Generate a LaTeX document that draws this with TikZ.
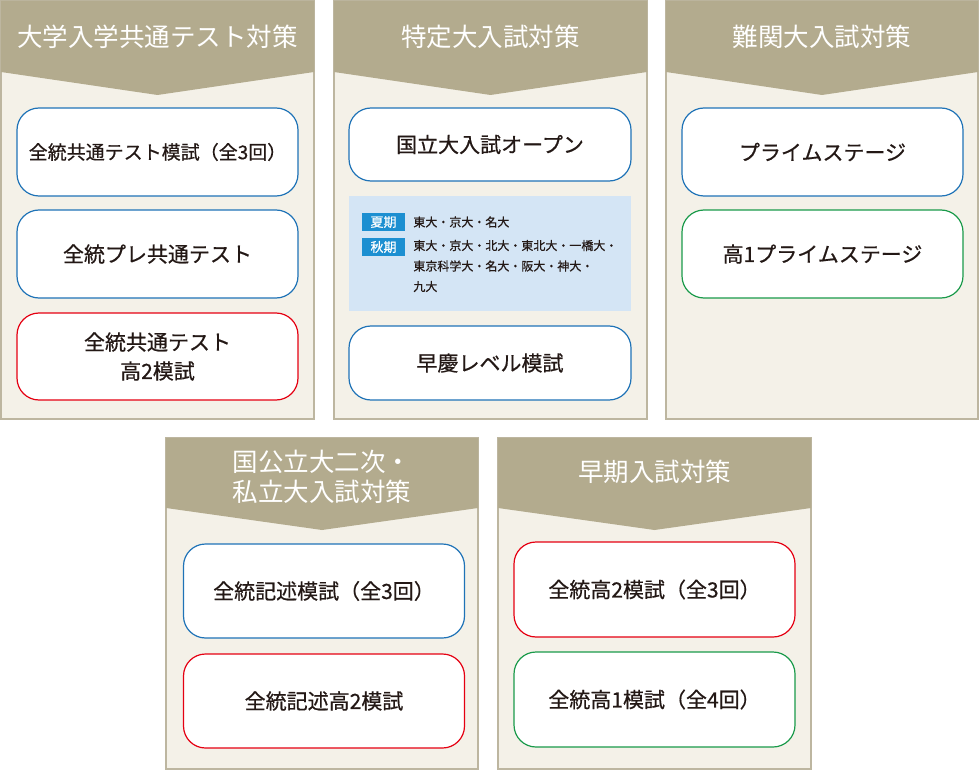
\documentclass[tikz,border=0pt]{standalone}
\usepackage{fontspec}
\setmainfont{Noto Sans CJK JP}
\newfontfamily\jpmed{Noto Sans CJK JP}[FakeBold=0.6]
\usepackage{tikz}
\usetikzlibrary{positioning,calc}

\definecolor{hdr}{HTML}{B3AB8E}
\definecolor{paper}{HTML}{F4F1E8}
\definecolor{frame}{HTML}{BDB6A0}
\definecolor{exblue}{HTML}{1F73B7}
\definecolor{exred}{HTML}{E50012}
\definecolor{exgreen}{HTML}{1A9A4A}
\definecolor{infofill}{HTML}{D4E5F5}
\definecolor{tagfill}{HTML}{1C8FD1}
\definecolor{ink}{HTML}{231815}

\begin{document}
\begin{tikzpicture}[x=1pt, y=-1pt,
    panel/.style={draw=frame, line width=1.5pt, fill=paper},
    hdrtext/.style={text=white, align=center, font=\fontsize{25.5}{31}\selectfont},
    exam/.style={rectangle, rounded corners=22pt, draw, line width=1.2pt, fill=white, text=ink,
      align=center, minimum width=281pt, font=\jpmed\fontsize{21}{29}\selectfont},
    tag/.style={rectangle, fill=tagfill, text=white, minimum width=43pt, minimum height=18pt,
      inner sep=0pt, font=\jpmed\fontsize{13}{15}\selectfont},
    info/.style={text=ink, align=left, inner sep=0pt, font=\jpmed\fontsize{12}{20.5}\selectfont}]

    \useasboundingbox (0,0) rectangle (980,770);

    % panels with chevron headers
    \foreach \xa/\xb/\ya/\yb/\ys/\yp in {1/314/1/419/72/95, 334/647/1/419/72/95, 666/978/1/419/72/95,
        166/478/438/769/508/530, 498/811/438/769/508/530} {
      \draw[panel] (\xa,\ya) rectangle (\xb,\yb);
      \fill[hdr] (\xa,\ya) -- (\xb,\ya) -- (\xb,\ys) -- ({(\xa+\xb)/2},\yp) -- (\xa,\ys) -- cycle;
    }

    \node[hdrtext] (h1) at (157.5,37) {大学入学共通テスト対策};
    \node[hdrtext] (h2) at (490.5,37) {特定大入試対策};
    \node[hdrtext] (h3) at (822,37) {難関大入試対策};
    \node[hdrtext, font=\fontsize{25.5}{30}\selectfont] (h4) at (322,477) {国公立大二次・\\私立大入試対策};
    \node[hdrtext] (h5) at (654.5,472) {早期入試対策};

    % 大学入学共通テスト対策
    \node[exam, draw=exblue, minimum height=88pt, font=\jpmed\fontsize{19}{25}\selectfont] (kt1) at (157.5,152) {全統共通テスト模試（全3回）};
    \node[exam, draw=exblue, minimum height=88pt] (kt2) at (157.5,254) {全統プレ共通テスト};
    \node[exam, draw=exred, minimum height=87pt] (kt3) at (157.5,356.5) {全統共通テスト\\高2模試};

    % 特定大入試対策
    \node[exam, draw=exblue, minimum width=282pt, minimum height=73pt] (td1) at (490,144.5) {国立大入試オープン};
    \node[rectangle, fill=infofill, minimum width=282pt, minimum height=115pt, inner sep=0pt] (tdinfo) at (490,253.5) {};
    \node[tag] (natu) at (383.5,222) {夏期};
    \node[tag] (aki) at (383.5,247) {秋期};
    \node[info, anchor=west] (natutxt) at ($(natu.east)+(8,0)$) {東大・京大・名大};
    \node[info, anchor=north west] (akitxt) at ($(aki.north east)+(8,2)$) {東大・京大・北大・東北大・一橋大・\\東京科学大・名大・阪大・神大・\\九大};
    \node[exam, draw=exblue, minimum width=282pt, minimum height=74pt] (td2) at (490,363) {早慶レベル模試};

    % 難関大入試対策
    \node[exam, draw=exblue, minimum height=88pt] (nk1) at (822.5,152) {プライムステージ};
    \node[exam, draw=exgreen, minimum height=88pt] (nk2) at (822.5,254) {高1プライムステージ};

    % 国公立大二次・私立大入試対策
    \node[exam, draw=exblue, minimum height=94pt] (kk1) at (324,591) {全統記述模試（全3回）};
    \node[exam, draw=exred, minimum height=94pt] (kk2) at (324,701) {全統記述高2模試};

    % 早期入試対策
    \node[exam, draw=exred, minimum height=95pt] (sk1) at (654.5,589.5) {全統高2模試（全3回）};
    \node[exam, draw=exgreen, minimum height=95pt] (sk2) at (654.5,699.5) {全統高1模試（全4回）};
\end{tikzpicture}
\end{document}
